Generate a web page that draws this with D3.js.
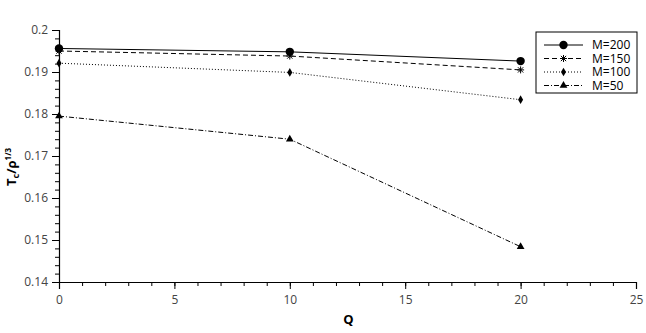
<!DOCTYPE html>
<html>
<head>
<meta charset="utf-8">
<script src="https://cdn.jsdelivr.net/npm/d3@7"></script>
<style>
  body { margin: 0; background: #fff; }
  text { font-family: "Open Sans", "Noto Sans", sans-serif; }
</style>
</head>
<body>
<svg width="646" height="333"></svg>
<script>
const qValues = [0, 10, 20];
const seriesNames = ['M=200', 'M=150', 'M=100', 'M=50'];
const m200 = [0.1956, 0.1948, 0.1926];
const m150 = [0.1950, 0.1938, 0.1905];
const m100 = [0.1921, 0.1899, 0.1834];
const m50 = [0.1795, 0.1740, 0.1484];
const xTicks = [0, 5, 10, 15, 20, 25];
const yTicks = [0.14, 0.15, 0.16, 0.17, 0.18, 0.19, 0.2];

const styles = [
  { dash: null, marker: 'circle' },
  { dash: '5,3', marker: 'star' },
  { dash: '1,2', marker: 'diamond' },
  { dash: '5,2,1,2', marker: 'triangle' }
];
const seriesValues = [m200, m150, m100, m50];

const svg = d3.select('svg');
const width = +svg.attr('width');
const height = +svg.attr('height');
const margin = { top: 30, right: 10, bottom: 51, left: 59 };
const innerWidth = width - margin.left - margin.right;
const innerHeight = height - margin.top - margin.bottom;

const xScale = d3.scaleLinear().domain([0, 25]).range([0, innerWidth]);
const yScale = d3.scaleLinear().domain([0.14, 0.2]).range([innerHeight, 0]);

const g = svg.append('g')
  .attr('transform', `translate(${margin.left},${margin.top})`);

// minor ticks first (no labels), then major ticks with labels
g.append('g')
  .attr('transform', `translate(0,${innerHeight})`)
  .call(d3.axisBottom(xScale).tickValues(d3.range(0, 26, 1)).tickSize(4).tickFormat(''))
  .call(a => a.select('.domain').remove())
  .call(a => a.selectAll('text').remove());
g.append('g')
  .call(d3.axisLeft(yScale).tickValues(d3.range(0, 31).map(i => 0.14 + i * 0.002)).tickSize(4).tickFormat(''))
  .call(a => a.select('.domain').remove())
  .call(a => a.selectAll('text').remove());

const xAxisG = g.append('g')
  .attr('transform', `translate(0,${innerHeight})`)
  .call(d3.axisBottom(xScale).tickValues(xTicks).tickSize(7).tickPadding(6).tickFormat(d3.format('d')));
const yAxisG = g.append('g')
  .call(d3.axisLeft(yScale).tickValues(yTicks).tickSize(7).tickPadding(4).tickFormat(d => +d.toFixed(2)));

[xAxisG, yAxisG].forEach(a => {
  a.selectAll('text').attr('font-size', 12).attr('fill', '#444')
    .attr('font-family', '"Open Sans", sans-serif');
  a.select('.domain').attr('stroke-width', 1.2);
});
g.selectAll('.tick line').attr('stroke', '#000');

xAxisG.append('text')
  .attr('x', innerWidth / 2 + 1)
  .attr('y', 42)
  .attr('fill', '#000')
  .attr('font-size', 13)
  .attr('font-weight', 'bold')
  .attr('text-anchor', 'middle')
  .text('Q');

const yLabel = svg.append('text')
  .attr('transform', `translate(16,167) rotate(-90)`)
  .attr('text-anchor', 'middle')
  .attr('font-size', 13)
  .attr('font-weight', 'bold')
  .attr('fill', '#000');
yLabel.append('tspan').text('T');
yLabel.append('tspan').attr('font-size', 9).attr('dy', 3).text('c');
yLabel.append('tspan').attr('dy', -3).text('/ρ');
yLabel.append('tspan').attr('font-size', 8).attr('dy', -5).text('1/3');

const drawMarker = (sel, type, x, y) => {
  if (type === 'circle') {
    sel.append('circle').attr('cx', x).attr('cy', y).attr('r', 4.2).attr('fill', '#000');
  } else if (type === 'star') {
    const s = 3.5;
    sel.append('path')
      .attr('d', `M${x - s},${y}H${x + s}M${x},${y - s}V${y + s}M${x - s * 0.75},${y - s * 0.75}L${x + s * 0.75},${y + s * 0.75}M${x - s * 0.75},${y + s * 0.75}L${x + s * 0.75},${y - s * 0.75}`)
      .attr('stroke', '#000').attr('stroke-width', 1).attr('fill', 'none');
  } else if (type === 'diamond') {
    sel.append('path')
      .attr('d', d3.symbol(d3.symbolDiamond, 22)())
      .attr('transform', `translate(${x},${y})`)
      .attr('fill', '#000');
  } else {
    sel.append('path')
      .attr('d', d3.symbol(d3.symbolTriangle, 26)())
      .attr('transform', `translate(${x},${y})`)
      .attr('fill', '#000');
  }
};

const line = d3.line()
  .x((d, i) => xScale(qValues[i]))
  .y(d => yScale(d));

seriesValues.forEach((vals, k) => {
  const sg = g.append('g');
  sg.append('path')
    .datum(vals)
    .attr('d', line)
    .attr('fill', 'none')
    .attr('stroke', '#000')
    .attr('stroke-width', 1)
    .attr('stroke-dasharray', styles[k].dash);
  vals.forEach((v, i) => drawMarker(sg, styles[k].marker, xScale(qValues[i]), yScale(v)));
});

// legend
const legend = svg.append('g').attr('transform', 'translate(536,32)');
legend.append('rect')
  .attr('width', 101).attr('height', 61)
  .attr('fill', '#fff').attr('stroke', '#000').attr('stroke-width', 1);
seriesNames.forEach((name, k) => {
  const y = 13 + k * 13.5;
  legend.append('line')
    .attr('x1', 8).attr('x2', 47).attr('y1', y).attr('y2', y)
    .attr('stroke', '#000').attr('stroke-width', 1)
    .attr('stroke-dasharray', styles[k].dash);
  drawMarker(legend, styles[k].marker, 27.5, y);
  legend.append('text')
    .attr('x', 56).attr('y', y + 4)
    .attr('font-size', 12)
    .attr('fill', '#000')
    .text(name);
});
</script>
</body>
</html>
